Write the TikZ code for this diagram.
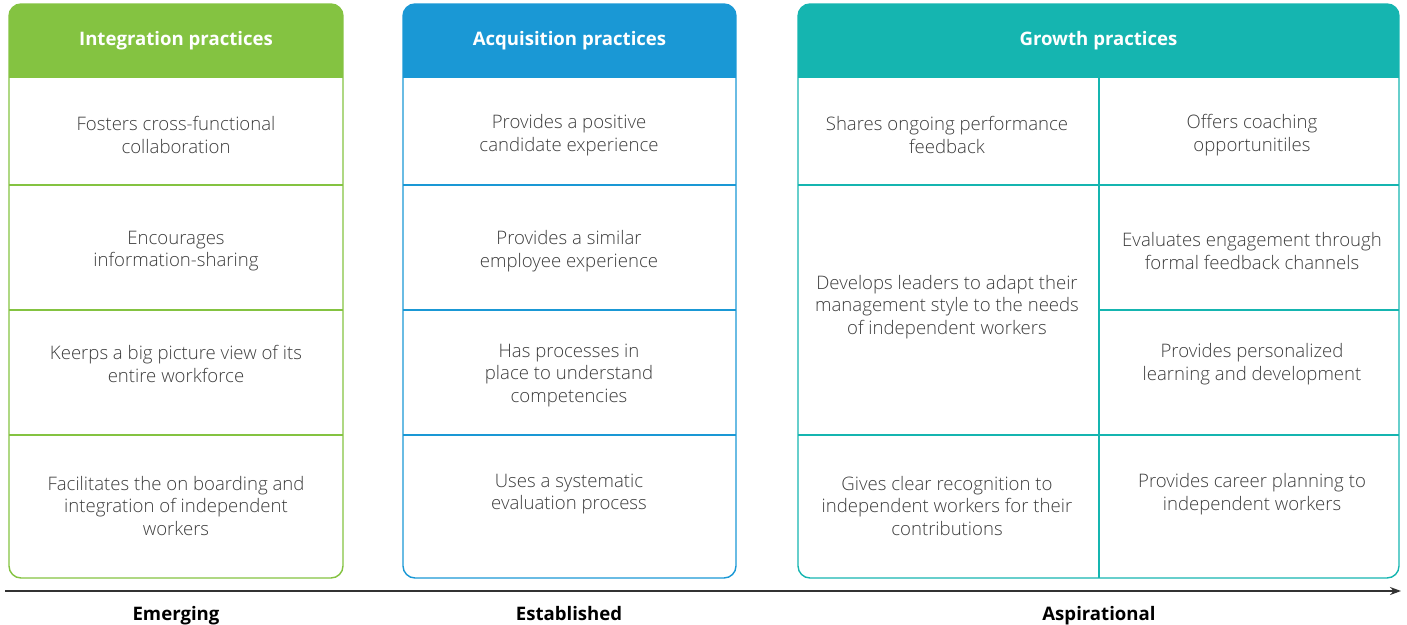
\documentclass[tikz,border=0pt]{standalone}
\usepackage{fontspec}
\setmainfont{Open Sans}[UprightFont=* Light, BoldFont=* Bold]
\usetikzlibrary{arrows.meta}

\definecolor{intgreen}{RGB}{132,195,65}
\definecolor{acqblue}{RGB}{26,152,213}
\definecolor{growteal}{RGB}{21,181,176}
\definecolor{textgray}{RGB}{60,60,60}
\definecolor{axisgray}{RGB}{50,50,50}

\tikzset{
  cell/.style={align=center, text=textgray, inner sep=0pt, font=\fontsize{18.6}{22.5}\selectfont},
  head/.style={text=white, inner sep=0pt, font=\fontsize{18.6}{20}\selectfont\bfseries},
  stage/.style={text=black, anchor=base, inner sep=0pt, font=\fontsize{18.6}{20}\selectfont\bfseries},
  rule/.style={line width=1.4pt},
}

\begin{document}
\begin{tikzpicture}[x=1pt,y=-1pt]
  \useasboundingbox (0,0) rectangle (1407,624);
  \def\boxtop{4}
  \def\headbot{78}
  \def\boxbot{578}

  % the three columns, header band first, then the frame
  \foreach \xl/\xr/\col/\name/\title in {9/343/intgreen/integ/Integration practices,
      403/736/acqblue/acq/Acquisition practices, 798/1399/growteal/grow/Growth practices} {
    \begin{scope}
      \clip[rounded corners=12pt] (\xl,\boxtop) rectangle (\xr,\boxbot);
      \fill[\col] (\xl,\boxtop) rectangle (\xr,\headbot);
    \end{scope}
    \draw[\col, rule, rounded corners=12pt] (\xl,\boxtop) rectangle (\xr,\boxbot);
    \node[head] (\name-head) at ({(\xl+\xr)/2},41) {\title};
  }

  % row lines of the first two columns
  \foreach \xl/\xr/\col in {9/343/intgreen, 403/736/acqblue} {
    \foreach \y in {185,310,435} {
      \draw[\col, rule] (\xl,\y) -- (\xr,\y);
    }
  }

  % growth grid: left half has a merged middle cell
  \draw[growteal, rule] (1099,\headbot) -- (1099,\boxbot);
  \foreach \y in {185,435} {
    \draw[growteal, rule] (798,\y) -- (1099,\y);
  }
  \foreach \y in {185,310,435} {
    \draw[growteal, rule] (1099,\y) -- (1399,\y);
  }

  % cell texts
  \foreach \y/\txt [count=\i] in {135/{Fosters cross-functional\\collaboration},
      251/{Encourages\\information-sharing}, 364/{Keerps a big picture view of its\\entire workforce},
      506/{Facilitates the on boarding and\\integration of independent\\workers}} {
    \node[cell] (integ-\i) at (176,\y) {\txt};
  }
  \foreach \y/\txt [count=\i] in {135/{Provides a positive\\candidate experience},
      251/{Provides a similar\\employee experience}, 375/{Has processes in\\place to understand\\competencies},
      494/{Uses a systematic\\evaluation process}} {
    \node[cell] (acq-\i) at (569,\y) {\txt};
  }
  \node[cell] (grow-l1) at (947,135) {Shares ongoing performance\\feedback};
  \node[cell] (grow-l2) at (947,307) {Develops leaders to adapt their\\management style to the needs\\of independent workers};
  \node[cell] (grow-l3) at (947,506) {Gives clear recognition to\\independent workers for their\\contributions};
  \node[cell] (grow-r1) at (1252,135) {Offers coaching\\opportunitiles};
  \node[cell] (grow-r2) at (1252,251) {Evaluates engagement through\\formal feedback channels};
  \node[cell] (grow-r3) at (1252,364) {Provides personalized\\learning and development};
  \node[cell] (grow-r4) at (1252,494) {Provides career planning to\\independent workers};

  % maturity axis
  \coordinate (axis-start) at (5,591);
  \coordinate (axis-end) at (1401,591);
  \draw[axisgray, line width=1.6pt, -{Stealth[length=11pt, width=8pt]}] (axis-start) -- (axis-end);
  \node[stage] (emerging) at (176,620) {Emerging};
  \node[stage] (established) at (569,620) {Established};
  \node[stage] (aspirational) at (1099,620) {Aspirational};
\end{tikzpicture}
\end{document}
